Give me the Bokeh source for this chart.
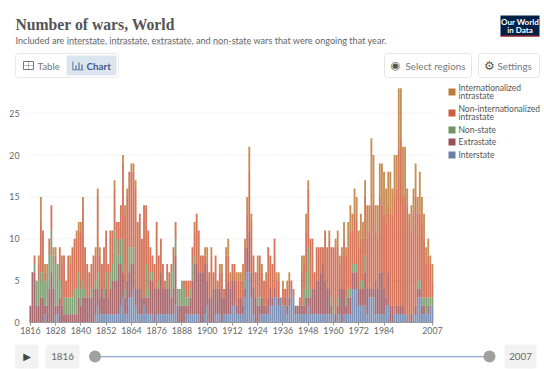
from bokeh.plotting import figure
from bokeh.models import ColumnDataSource, Label, BoxAnnotation, FixedTicker, Range1d
from bokeh.embed import file_html
from bokeh.resources import INLINE

years = list(range(1816, 2008))
x_ticks = [1816, 1828, 1840, 1852, 1864, 1876, 1888, 1900, 1912, 1924, 1936, 1948, 1960, 1972, 1984, 2007]
y_ticks = [0, 5, 10, 15, 20, 25]

interstate = [0,0,0,0,
 0,0,0,1,0,0,0,0,1,1,
 0,0,0,0,0,0,0,0,0,0,
 0,0,0,0,0,0,0,1,2,1,
 1,1,1,1,1,1,1,1,1,2,
 3,1,1,3,3,4,2,1,1,1,
 2,1,1,1,1,0,1,1,1,1,
 1,1,1,1,1,2,0,0,0,0,
 1,1,1,1,1,1,1,0,0,1,
 2,0,0,0,1,1,1,0,1,1,
 1,1,2,2,1,1,1,1,3,6,
 6,3,1,0,0,1,1,1,1,1,
 2,2,3,3,2,3,2,2,1,2,
 4,3,1,1,1,1,1,1,2,1,
 1,1,1,1,1,1,1,1,1,1,
 1,0,1,1,0,1,1,1,1,4,
 4,4,2,2,2,2,1,3,3,3,
 1,1,1,1,1,2,2,0,0,1,
 1,1,1,1,1,1,0,0,1,1,
 3,3,1,1,1,1,2,2]
extrastate = [2,6,6,2,
 2,3,3,1,2,4,6,4,1,1,
 3,2,1,1,1,1,1,1,1,3,
 2,3,3,3,3,3,4,3,2,2,
 3,2,3,2,3,4,4,4,6,5,
 3,2,4,3,4,3,2,3,3,2,
 1,2,2,4,4,4,3,3,5,3,
 3,3,3,2,3,6,2,2,2,2,
 1,1,2,4,6,6,5,6,6,6,
 3,3,3,4,3,3,3,3,2,3,
 4,3,3,3,1,2,2,1,1,3,
 5,3,3,3,2,1,2,1,1,2,
 2,1,1,0,1,0,0,1,1,1,
 0,0,1,1,1,1,1,2,1,2,
 3,3,4,4,5,6,4,3,3,1,
 0,1,1,3,4,3,1,2,2,2,
 2,2,2,2,2,4,3,1,1,1,
 4,3,5,5,3,1,4,2,2,0,
 1,1,1,1,0,0,0,1,0,1,
 1,1,1,1,0,1,0,0]
nonstate = [0,0,1,3,
 3,3,3,3,3,4,5,4,5,5,
 2,0,2,2,2,2,2,3,3,3,
 2,2,1,0,0,1,0,1,2,0,
 0,1,2,0,2,2,6,5,1,3,
 4,1,0,3,2,2,0,0,0,0,
 0,4,1,1,1,0,0,1,0,0,
 0,1,0,3,3,2,2,2,3,2,
 1,1,1,2,1,0,0,0,0,0,
 0,0,0,0,0,0,0,0,0,0,
 0,0,0,0,0,0,0,0,1,0,
 0,0,0,0,1,1,0,0,0,0,
 0,0,0,0,0,0,0,0,0,0,
 0,0,0,0,0,0,2,3,6,1,
 0,0,0,0,0,0,0,0,0,1,
 1,0,1,0,0,0,1,1,1,1,
 1,1,0,1,1,2,0,0,0,0,
 0,0,0,0,0,0,0,0,0,0,
 0,0,0,0,0,0,0,0,0,0,
 1,1,1,1,2,1,1,1]
nonintl = [0,0,1,0,
 2,6,5,1,0,2,3,0,1,0,
 4,5,5,2,5,4,6,6,6,5,
 7,9,5,4,3,3,4,3,9,5,
 3,5,5,4,5,4,5,2,4,4,
 9,9,10,9,9,9,12,8,9,7,
 11,7,7,3,2,3,8,3,4,3,
 1,2,2,1,2,2,0,0,0,1,
 2,2,1,2,3,6,5,2,2,1,
 2,3,5,2,4,1,2,3,1,4,
 3,1,2,2,3,2,2,3,4,4,
 7,6,4,3,3,5,3,3,3,6,
 4,4,6,2,2,0,2,1,2,2,
 1,1,0,0,1,4,3,5,7,6,
 6,2,4,4,3,2,6,5,6,6,
 7,8,6,3,4,6,5,5,7,4,
 6,5,5,5,5,7,6,7,10,10,
 6,6,9,8,9,9,8,11,11,14,
 14,19,20,13,14,13,12,10,12,13,
 8,8,9,7,4,5,4,2]
intl = [0,0,0,0,
 1,3,0,1,2,0,0,1,1,0,
 0,1,0,0,0,1,0,0,1,1,
 1,1,0,0,0,0,0,1,1,1,
 0,0,0,0,0,0,1,0,0,0,
 1,1,1,0,1,1,1,0,0,0,
 0,0,0,0,0,0,0,0,0,0,
 0,0,0,0,0,0,0,0,0,0,
 0,0,0,0,1,0,0,0,0,1,
 2,0,1,0,0,0,1,1,0,1,
 2,1,0,0,1,1,1,2,1,2,
 3,1,0,0,2,0,1,0,1,0,
 0,0,0,1,1,0,1,0,1,1,
 0,0,0,0,0,2,1,2,1,0,
 0,0,0,0,0,0,0,0,1,0,
 0,1,2,1,1,2,1,3,3,2,
 3,3,2,3,2,2,4,3,8,6,
 3,4,4,5,5,4,4,5,3,5,
 4,7,6,6,6,2,1,3,3,4,
 2,5,3,3,2,2,1,2]

keys = ["interstate", "extrastate", "nonstate", "nonintl", "intl"]
colors = ["#4C6A9C", "#883039", "#578145", "#C5401C", "#B16214"]
src = ColumnDataSource(dict(year=years, interstate=interstate, extrastate=extrastate,
                            nonstate=nonstate, nonintl=nonintl, intl=intl))

W, H = 544, 369
PLOT_L, PLOT_R, ZERO_Y = 29, 433, 322
X0, X1 = 1815.6, 2007.5
ppx = (PLOT_R - PLOT_L) / (X1 - X0)
ppy = 8.37
p = figure(width=W, height=H, output_backend="svg", toolbar_location=None,
           x_range=Range1d(X0 - PLOT_L / ppx, X0 + (W - PLOT_L) / ppx),
           y_range=Range1d(-(H - ZERO_Y) / ppy, ZERO_Y / ppy),
           min_border_left=0, min_border_right=0, min_border_top=0, min_border_bottom=0)
p.outline_line_color = None
p.background_fill_color = "white"
p.xgrid.visible = False
p.ygrid.visible = False
grid_y = y_ticks[1:]
p.segment(x0=[X0] * len(grid_y), x1=[X1] * len(grid_y), y0=grid_y, y1=grid_y,
          line_color="#dddddd", line_dash="1 2", line_width=1)
p.vbar_stack(keys, x="year", width=0.88, source=src, color=colors, fill_alpha=0.72, line_alpha=0)

p.xaxis.fixed_location = 0
p.yaxis.fixed_location = X0
p.xaxis.bounds = (X0, X1)
p.yaxis.bounds = (0, 28)
p.xaxis.ticker = FixedTicker(ticks=x_ticks)
p.yaxis.ticker = FixedTicker(ticks=y_ticks)
p.yaxis.axis_line_color = None
p.yaxis.major_tick_line_color = None
p.yaxis.minor_tick_line_color = None
p.yaxis.major_label_standoff = 4
p.xaxis.axis_line_color = "#999999"
p.xaxis.major_tick_line_color = "#999999"
p.xaxis.major_tick_in = 0
p.xaxis.major_tick_out = 3
p.xaxis.minor_tick_line_color = None
p.xaxis.major_label_standoff = 1
for ax in (p.xaxis, p.yaxis):
    ax.major_label_text_font = "Lato"
    ax.major_label_text_font_size = "8.8px"
    ax.major_label_text_color = "#666666"

def txt(x, y, s, size=10, color="#666666", font="Lato", style="normal", align="left"):
    p.add_layout(Label(x=x, y=H - y, x_units="screen", y_units="screen", text=s, text_font=font,
                       text_font_size=f"{size}px", text_color=color, text_font_style=style,
                       text_align=align, text_baseline="middle"))

def box(l, t, r, b, fill="white", line=None, radius=0, alpha=1.0):
    p.add_layout(BoxAnnotation(left=l, right=r, top=H - t, bottom=H - b,
                               left_units="screen", right_units="screen", top_units="screen", bottom_units="screen",
                               fill_color=fill, fill_alpha=alpha, line_color=line, line_alpha=1 if line else 0,
                               line_width=1, border_radius=radius, level="annotation"))

# header
txt(15, 24, "Number of wars, World", 15.7, "#555555", "Liberation Serif", "bold")
txt(15, 39.5, "Included are interstate, intrastate, extrastate, and non-state wars that were ongoing that year.", 9.1, "#666666")
for l, r in [(66, 104), (109, 147), (151, 190), (212, 251)]:
    box(l, 44, r, 44.5, "#bbbbbb", None)
# logo
box(500, 15, 539, 36, "#002147")
box(500, 35, 539, 36, "#ce261e")
txt(519.5, 21.5, "Our World", 8, "white", "Lato", "bold", "center")
txt(519.5, 29, "in Data", 8, "white", "Lato", "bold", "center")
# tab group
box(15, 53, 118, 77, "white", "#e8e8e8", 3)
box(66, 55, 116, 75, "#dbe5f0", None, 2)
box(23, 61, 33, 69, "white", "#777777")
box(23, 65, 33, 65.5, "#777777")
box(28, 61, 28.5, 69, "#777777")
txt(37, 65, "Table", 9.8, "#777777")
box(72, 69, 83, 69.8, "#3d5a86")
box(72, 61, 72.8, 69, "#3d5a86")
box(75, 65, 76, 69, "#3d5a86")
box(78, 62, 79, 69, "#3d5a86")
box(81, 64, 82, 69, "#3d5a86")
txt(86, 65, "Chart", 9.8, "#3d5a86", "Lato", "bold")
# buttons
box(384, 53, 471, 77, "white", "#e4e4e4", 3)
txt(395, 65, "\u25c9", 11, "#555555", "DejaVu Sans", "normal", "center")
txt(405, 65, "Select regions", 9.8, "#777777")
box(478, 53, 539, 77, "white", "#e4e4e4", 3)
txt(489, 65, "\u2699", 12, "#555555", "DejaVu Sans", "normal", "center")
txt(497, 65, "Settings", 9.8, "#777777")
# legend
legend_rows = [(88, 91.7, ["Internationalized", "intrastate"], 4),
               (109, 112.5, ["Non-internationalized", "intrastate"], 3),
               (126, 129.5, ["Non-state"], 2),
               (138, 141.5, ["Extrastate"], 1),
               (151, 154, ["Interstate"], 0)]
for top, mid, lines, idx in legend_rows:
    box(448, top, 455, top + 7, colors[idx], None, 0, alpha=0.85)
    if len(lines) == 2:
        txt(458, mid - 4, lines[0], 8.5, "#555555")
        txt(458, mid + 4.2, lines[1], 8.5, "#555555")
    else:
        txt(458, mid, lines[0], 8.5, "#555555")
# timeline
box(14.5, 344, 38, 368, "#f2f2f2", None, 3)
txt(26.5, 356, "\u25b6", 10, "#444444", "DejaVu Sans", "normal", "center")
box(45, 344, 79, 368, "#f2f2f2", None, 3)
txt(62, 356, "1816", 9.8, "#666666", "Lato", "normal", "center")
box(504, 344, 536, 368, "#f2f2f2", None, 3)
txt(520, 356, "2007", 9.8, "#666666", "Lato", "normal", "center")
box(95, 355.5, 489, 356.8, "#8fa9cc", None)
box(88.5, 350, 100.5, 362, "#a0a0a0", None, 6)
box(483, 350, 495, 362, "#a0a0a0", None, 6)

assert all(len(s) == 192 for s in (interstate, extrastate, nonstate, nonintl, intl))
open("out.html", "w").write(file_html(p, INLINE))
